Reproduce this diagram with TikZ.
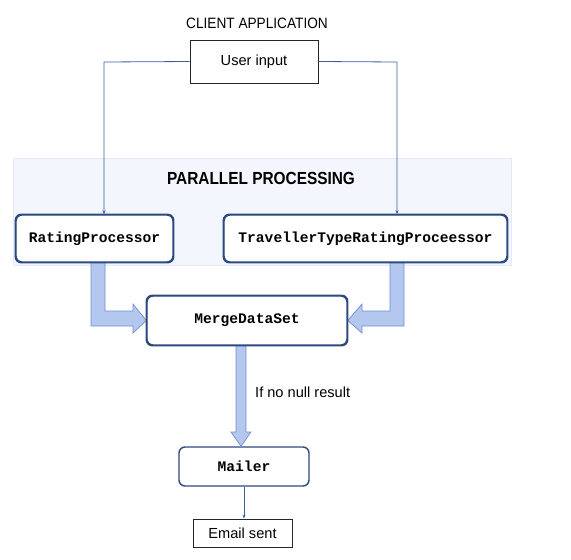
\documentclass[tikz,border=0pt]{standalone}
\usepackage{fontspec}
\setmainfont{Liberation Sans}
\setmonofont{Liberation Mono}
\newfontfamily\capsA[FakeStretch=0.91]{Liberation Sans}
\newfontfamily\capsB[FakeStretch=0.88]{Liberation Sans}
\usetikzlibrary{arrows.meta,calc}
\definecolor{boxline}{HTML}{2D4A80}
\definecolor{thin}{HTML}{3F5E9E}
\definecolor{fatfill}{HTML}{B4C7EE}
\definecolor{fatline}{HTML}{6F8FD0}
\definecolor{panelfill}{HTML}{F3F7FD}
\definecolor{panelline}{HTML}{E3EAF5}
\tikzset{
  procbox/.style={draw=boxline,line width=1.4pt,rounded corners=6pt,fill=white,inner sep=0pt,
    font=\fontsize{14.6}{16}\selectfont\ttfamily\bfseries},
  plainbox/.style={draw=black!85,line width=0.8pt,fill=white,inner sep=0pt,
    font=\fontsize{14.6}{17}\selectfont},
  thinarrow/.style={draw=thin,line width=0.8pt,-{Stealth[length=4pt,width=3pt]}},
  fatarrow/.style={draw=fatline,fill=fatfill,line width=0.7pt,line join=miter},
  lbl/.style={inner sep=0pt,font=\fontsize{14.6}{17}\selectfont}
}
\begin{document}
\begin{tikzpicture}[x=1pt,y=-1pt]
\useasboundingbox (0,0) rectangle (571,560);
% panel
\node[draw=panelline,fill=panelfill,line width=0.6pt,minimum width=498pt,minimum height=107pt,inner sep=0pt] (panel) at (262,211.5) {};
\node[lbl,font=\fontsize{17.5}{20}\selectfont\capsB\bfseries] (pp) at (261,178) {PARALLEL PROCESSING};
% texts
\node[lbl,font=\fontsize{15}{17}\selectfont\capsA] (client) at (257,23) {CLIENT APPLICATION};
\node[plainbox,minimum width=128pt,minimum height=43pt] (ui) at (254,61.5) {User input};
\node[procbox,minimum width=157pt,minimum height=47pt] (rp) at (94.5,238.5) {RatingProcessor};
\node[procbox,minimum width=283pt,minimum height=47pt] (tt) at (365.5,238.5) {TravellerTypeRatingProceessor};
\node[procbox,minimum width=200pt,minimum height=49pt] (md) at (247,320.5) {MergeDataSet};
\node[procbox,minimum width=130pt,minimum height=39pt] (ml) at (244,466.5) {Mailer};
\node[plainbox,minimum width=99pt,minimum height=28pt] (es) at (242.5,533) {Email sent};
\node[lbl,anchor=west] (cond) at (255,392) {If no null result};
% thin connectors
\coordinate (lc) at (104,62);
\coordinate (rc) at (397,62);
\draw[thinarrow] (ui.west) -- (lc) -- (lc |- rp.north);
\draw[thinarrow] (ui.east) -- (rc) -- (rc |- tt.north);
\draw[thinarrow] (ml.south) -- (ml.south |- es.north);
% fat arrows
\draw[fatarrow] (91,262) -- (91,326) -- (133,326) -- (133,333) -- (md.west) -- (133,304) -- (133,311) -- (105,311) -- (105,262) -- cycle;
\draw[fatarrow] (404,262) -- (404,326) -- (362,326) -- (362,333) -- (md.east) -- (362,304) -- (362,311) -- (390,311) -- (390,262) -- cycle;
\draw[fatarrow] (236,345) -- (236,432) -- (231,432) -- (ml.north -| 241,0) -- (251,432) -- (246,432) -- (246,345) -- cycle;
% redraw box borders on top
\draw[boxline,line width=1.4pt,rounded corners=6pt] (rp.south west) rectangle (rp.north east);
\draw[boxline,line width=1.4pt,rounded corners=6pt] (tt.south west) rectangle (tt.north east);
\draw[boxline,line width=1.4pt,rounded corners=6pt] (md.south west) rectangle (md.north east);
\end{tikzpicture}
\end{document}
